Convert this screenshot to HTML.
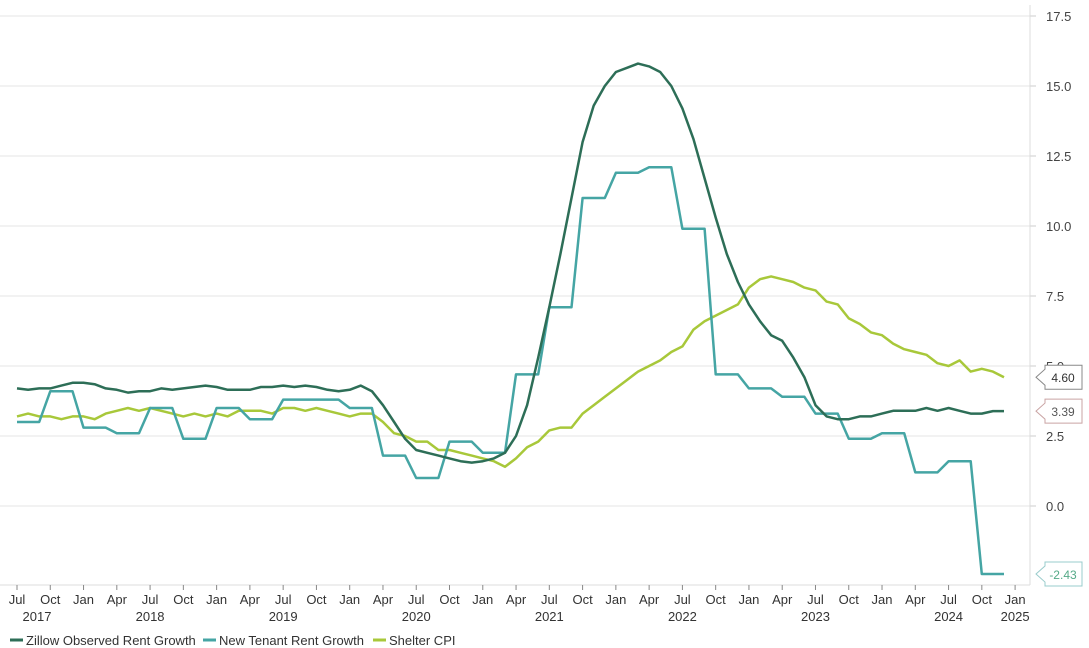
<!DOCTYPE html>
<html><head><meta charset="utf-8"><style>
html,body{margin:0;padding:0;background:#fff;}
svg{display:block;font-family:"Liberation Sans",sans-serif;}
</style></head><body>
<svg id="c" width="1089" height="648" xmlns="http://www.w3.org/2000/svg"></svg>
<script>
const s=document.getElementById('c');
const X=m=>17+m*11.09, Y=v=>506-28*v;
let h='';
// grid
[17.5,15,12.5,10,7.5,5,2.5,0].forEach(v=>{
 h+=`<line x1="0" x2="1030" y1="${Y(v)}" y2="${Y(v)}" stroke="#e4e4e4" stroke-width="1"/>`;
 h+=`<line x1="1030" x2="1036" y1="${Y(v)}" y2="${Y(v)}" stroke="#ccc"/>`;
 h+=`<text x="1046" y="${Y(v)+5}" font-size="13" fill="#444">${v.toFixed(1)}</text>`;
});
h+=`<line x1="1030" x2="1030" y1="5" y2="585" stroke="#ddd"/>`;
h+=`<line x1="0" x2="1030" y1="585" y2="585" stroke="#ddd"/>`;
const mn=['Jul','Oct','Jan','Apr'];
for(let i=0;i<=30;i++){const x=X(i*3);
 h+=`<line x1="${x}" x2="${x}" y1="585" y2="590" stroke="#888"/>`;
 h+=`<text x="${x}" y="604" font-size="13" fill="#333" text-anchor="middle">${mn[i%4]}</text>`;}
for(let y=2017;y<=2024;y++){let x=X((y-2017)*12); if(y==2017)x=37;
 h+=`<text x="${x}" y="621" font-size="13" fill="#333" text-anchor="middle">${y}</text>`;}
h+=`<text x="${X(90)}" y="621" font-size="13" fill="#333" text-anchor="middle">2025</text>`;
const z=[4.2,4.15,4.2,4.2,4.3,4.4,4.4,4.35,4.2,4.15,4.05,4.1,4.1,4.2,4.15,4.2,4.25,4.3,4.25,4.15,4.15,4.15,4.25,4.25,4.3,4.25,4.3,4.25,4.15,4.1,4.15,4.3,4.1,3.6,3.0,2.4,2.0,1.9,1.8,1.7,1.6,1.55,1.6,1.7,1.9,2.5,3.6,5.3,7.1,9.0,11.0,13.0,14.3,15.0,15.5,15.65,15.8,15.7,15.5,15.0,14.2,13.1,11.7,10.3,9.0,8.0,7.2,6.6,6.1,5.9,5.3,4.6,3.6,3.2,3.1,3.1,3.2,3.2,3.3,3.4,3.4,3.4,3.5,3.4,3.5,3.4,3.3,3.3,3.39,3.39];
const tq=[3.0,4.1,2.8,2.6,3.5,2.4,3.5,3.1,3.8,3.8,3.5,1.8,1.0,2.3,1.9,4.7,7.1,11.0,11.9,12.1,9.9,4.7,4.2,3.9,3.3,2.4,2.6,1.2,1.6,-2.43];
const t=[];for(let m=0;m<90;m++)t.push(tq[Math.floor(m/3)]);
const c=[3.2,3.3,3.2,3.2,3.1,3.2,3.2,3.1,3.3,3.4,3.5,3.4,3.5,3.4,3.3,3.2,3.3,3.2,3.3,3.2,3.4,3.4,3.4,3.3,3.5,3.5,3.4,3.5,3.4,3.3,3.2,3.3,3.3,3.0,2.6,2.5,2.3,2.3,2.0,2.0,1.9,1.8,1.7,1.6,1.4,1.7,2.1,2.3,2.7,2.8,2.8,3.3,3.6,3.9,4.2,4.5,4.8,5.0,5.2,5.5,5.7,6.3,6.6,6.8,7.0,7.2,7.8,8.1,8.2,8.1,8.0,7.8,7.7,7.3,7.2,6.7,6.5,6.2,6.1,5.8,5.6,5.5,5.4,5.1,5.0,5.2,4.8,4.9,4.8,4.6];
const pl=(d,col)=>`<polyline fill="none" stroke="${col}" stroke-width="2.5" stroke-linejoin="round" points="${d.map((v,i)=>X(i).toFixed(1)+','+Y(v).toFixed(1)).join(' ')}"/>`;
h+=pl(c,'#a8c83a')+pl(t,'#45a5a4')+pl(z,'#2d6e57');
const lab=(v,col,tc)=>{const y=Y(v);
 h+=`<path d="M1036,${y} L1045,${y-8} L1045,${y-12} L1082,${y-12} L1082,${y+12} L1045,${y+12} L1045,${y+8} Z" fill="#fff" stroke="${col}"/>`;
 h+=`<text x="1063" y="${y+5}" font-size="12" fill="${tc}" text-anchor="middle">${v.toFixed(2)}</text>`;};
lab(4.6,'#888','#333');lab(3.39,'#c9a3a3','#555');lab(-2.43,'#9cc','#5a8');
// legend
const lg=[['#2d6e57','Zillow Observed Rent Growth',10],['#45a5a4','New Tenant Rent Growth',203],['#a8c83a','Shelter CPI',373]];
lg.forEach(([col,tx,x])=>{h+=`<line x1="${x}" x2="${x+13}" y1="640" y2="640" stroke="${col}" stroke-width="3"/>`;
 h+=`<text x="${x+16}" y="645" font-size="13" fill="#333">${tx}</text>`;});
s.innerHTML=h;
</script>
</body></html>
